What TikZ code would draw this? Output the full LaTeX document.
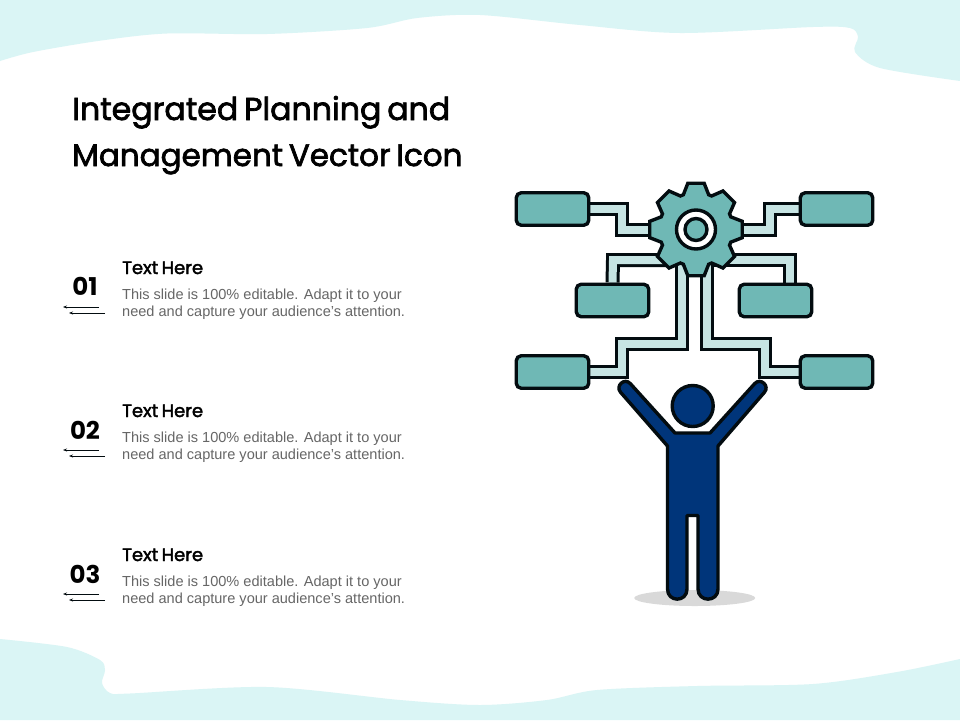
\documentclass[tikz,border=0pt]{standalone}
\usepackage{fontspec}
\setmainfont{Liberation Sans}
\newfontfamily\gothic[FakeBold=2.2,WordSpace=0.7]{Poppins}
\newfontfamily\gothicnum{Poppins}
\usetikzlibrary{arrows.meta}
\pgfdeclarelayer{bg}
\pgfdeclarelayer{blobs}
\pgfsetlayers{blobs,bg,main}
\definecolor{blob}{HTML}{DAF5F5}
\definecolor{teal}{HTML}{6FB8B5}
\definecolor{bandc}{HTML}{C6E4E3}
\definecolor{navy}{HTML}{00357A}
\definecolor{ink}{HTML}{030C10}
\definecolor{greytxt}{HTML}{666666}
\tikzset{
  x=1pt,y=-1pt,
  box/.style={draw=ink,line width=3.4pt,fill=teal,rounded corners=5pt,minimum width=72.5pt,minimum height=32.5pt,inner sep=0pt},
  bandout/.style={draw=ink,line width=14pt,line join=miter},
  bandin/.style={draw=bandc,line width=8pt,line join=miter},
  ttl/.style={anchor=base west,inner sep=0pt,font=\gothic\fontsize{31}{31}\selectfont},
  ttlwide/.style={anchor=base west,inner sep=0pt,font=\gothic\fontsize{31.6}{31.6}\selectfont},
  num/.style={anchor=base,inner sep=0pt,font=\gothicnum\bfseries\fontsize{24.5}{24.5}\selectfont},
  head/.style={anchor=base west,inner sep=0pt,font=\gothic\fontsize{18}{18}\selectfont},
  bodytxt/.style={anchor=base west,inner sep=0pt,text=greytxt,font=\fontsize{14.55}{14.55}\selectfont},
  thin arrow/.style={draw=ink,line width=0.8pt,-{Stealth[length=4pt,width=3pt]}}
}
\begin{document}
\begin{tikzpicture}
\useasboundingbox (0,0) rectangle (960,720);
\begin{pgfonlayer}{blobs}
\fill[white] (0,0) rectangle (960,720);
\fill[blob] (0,0) -- (0,61) -- plot[smooth,tension=.5] coordinates {(0,61) (33,52) (100,40.7) (167,33.5) (267,34) (367,28) (417,18) (480,15) (580,25) (680,33) (813,27) (850,28) (858,37) (855,52) (880,68) (960,81)} -- (960,0) -- cycle;
\fill[blob] (0,720) -- (0,639) -- plot[smooth,tension=.5] coordinates {(0,639) (67,647) (100,660) (105,670) (102,683) (110,693) (130,693.5) (267,687) (400,700) (480,705) (547,700) (597,690) (697,686) (813,684) (897,672) (960,659)} -- (960,720) -- cycle;
\end{pgfonlayer}

\node[ttlwide] (t1) at (72,120) {Integrated Planning and};
\node[ttl] (t2) at (72,166) {Management Vector Icon};

\foreach \n/\lab/\dy in {a/01/0,b/02/144,c/03/288}{
  \node[num] (num\n) at (85,295+\dy) {\lab};
}
\foreach \n/\dy in {a/0,b/143,c/287}{
  \node[head] (head\n) at (122,274+\dy) {Text Here};
  \node[bodytxt] (la\n) at (122,299+\dy) {This slide is 100\% editable. Adapt it to your};
  \node[bodytxt] (lb\n) at (122,316+\dy) {need and capture your audience’s attention.};
  \coordinate (r1\n) at (99,307+\dy);
  \coordinate (l1\n) at (63,307+\dy);
  \coordinate (r2\n) at (105,313+\dy);
  \coordinate (l2\n) at (69,313+\dy);
  \draw[thin arrow] (r1\n) -- (l1\n);
  \draw[thin arrow] (r2\n) -- (l2\n);
}

% boxes
\node[box] (b1) at (552.5,209) {};
\node[box] (b2) at (836.5,209) {};
\node[box] (b3) at (612.5,300.5) {};
\node[box] (b4) at (775.5,300.5) {};
\node[box] (b5) at (552.5,372) {};
\node[box] (b6) at (836.5,372) {};

% gear
\def\gcx{696}\def\gcy{229.5}
\fill[teal,draw=ink,line width=3.4pt,line join=miter]
 ({\gcx+37*cos(-20)},{\gcy+37*sin(-20)})
 \foreach \a in {0,45,...,315}{
   -- ({\gcx+37*cos(\a-20)},{\gcy+37*sin(\a-20)})
   -- ({\gcx+47*cos(\a-10)},{\gcy+47*sin(\a-10)})
   -- ({\gcx+47*cos(\a+10)},{\gcy+47*sin(\a+10)})
   -- ({\gcx+37*cos(\a+20)},{\gcy+37*sin(\a+20)})
 } -- cycle;
\node[circle,draw=ink,line width=3.4pt,fill=white,minimum size=39pt,inner sep=0pt] (gear) at (\gcx,\gcy) {};
\node[circle,draw=ink,line width=3.4pt,fill=teal,minimum size=22pt,inner sep=0pt] (hub) at (\gcx,\gcy) {};

% connectors
\coordinate (j3) at (690,260);
\coordinate (j4) at (700,260);
\coordinate (j4b) at (789.5,284);
\coordinate (j5) at (681.5,240);
\coordinate (j6) at (707,240);
\begin{pgfonlayer}{bg}
\foreach \s in {bandout,bandin}{
  \draw[\s] (b1.east) -- (622,209) |- (gear);
  \draw[\s] (b2.west) -- (770,209) |- (gear);
  \draw[\s] (b3.north) -- (613,260) -- (j3);
  \draw[\s] (j4b) -- (789.5,260) -- (j4);
  \draw[\s] (b5.east) -- (622,372) -- (622,344) -- (681.5,344) -- (j5);
  \draw[\s] (b6.west) -- (764.5,372) -- (764.5,344) -- (707,344) -- (j6);
}
\end{pgfonlayer}

% person
\fill[black!15] (694.7,598) ellipse [x radius=60.5,y radius=8];
\fill[navy,draw=ink,line width=3.4pt,line join=round]
 (630.3,383.6) -- (675,433) -- (710,433) -- (754.7,383.6)
 .. controls (760.5,377.2) and (770.1,386) .. (764.3,392.4)
 -- (718,446) -- (718,589)
 .. controls (718,602.5) and (698,602.5) .. (698,589)
 -- (698,515.5) -- (687,515.5) -- (687,589)
 .. controls (687,602.5) and (667.5,602.5) .. (667.5,589)
 -- (667.5,446) -- (620.7,392.4)
 .. controls (614.9,386) and (624.5,377.2) .. (630.3,383.6) -- cycle;
\node[circle,draw=ink,line width=3.4pt,fill=navy,minimum size=41pt,inner sep=0pt] (headc) at (692.7,406) {};
\end{tikzpicture}
\end{document}
